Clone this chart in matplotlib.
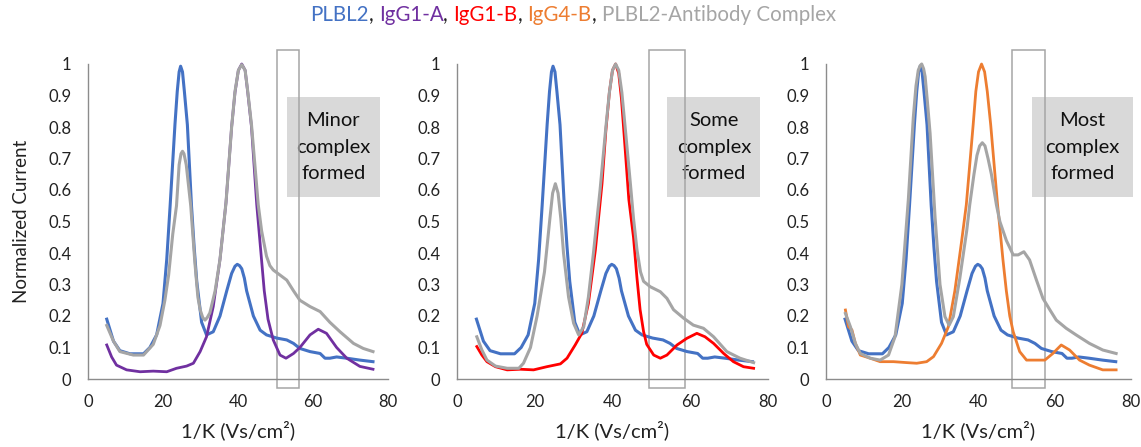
import matplotlib
matplotlib.use("Agg")
import matplotlib.pyplot as plt
from matplotlib.patches import Rectangle

plt.rcParams['font.family'] = ['Lato', 'DejaVu Sans']

BLUE = "#4472C4"
GRAY = "#A5A5A5"
PURPLE = "#7030A0"
RED = "#FF0000"
ORANGE = "#ED7D31"

# PLBL2 reference trace (same in every panel)
plbl2_x = [5, 6.8, 8.5, 11.2, 14.8, 16.5, 18.3, 20, 21, 21.9, 23.2, 23.8, 24.3, 24.7, 25.2,
           25.7, 26.5, 27.6, 28.3, 29, 30.3, 31.6, 33.4, 35.2, 37, 38.3, 39.2, 39.8, 40.4,
           41, 41.7, 42.3, 44.1, 45.9, 47.6, 50.3, 53, 54.8, 56.5, 59.2, 61.9, 63.2, 64.5,
           66.3, 69, 72.5, 76]
plbl2_y = [0.19, 0.12, 0.09, 0.08, 0.08, 0.10, 0.14, 0.24, 0.38, 0.55, 0.81, 0.913, 0.975,
           0.993, 0.975, 0.913, 0.807, 0.55, 0.42, 0.31, 0.18, 0.14, 0.15, 0.20, 0.28, 0.335,
           0.358, 0.364, 0.36, 0.35, 0.32, 0.28, 0.20, 0.155, 0.14, 0.13, 0.124, 0.113, 0.097,
           0.087, 0.081, 0.066, 0.066, 0.07, 0.066, 0.06, 0.055]

# panel 1: IgG1-A
igg1a_x = [5, 6.3, 7.6, 10.3, 13.9, 17.4, 21, 23.6, 26.3, 28.1, 29.9, 31.6, 33.4, 35.2,
           36.8, 38.3, 39.2, 40.1, 41, 41.9, 42.6, 43.6, 45, 45.9, 47, 48, 49.4, 51.2, 52.8,
           54.8, 56.5, 59.2, 61.4, 63.6, 66.3, 69, 72.5, 76]
igg1a_y = [0.108, 0.07, 0.044, 0.029, 0.023, 0.025, 0.023, 0.034, 0.041, 0.05, 0.087, 0.134,
           0.23, 0.38, 0.56, 0.80, 0.91, 0.98, 1.0, 0.98, 0.91, 0.80, 0.553, 0.43, 0.28, 0.19,
           0.124, 0.076, 0.066, 0.081, 0.10, 0.14, 0.158, 0.145, 0.10, 0.066, 0.04, 0.031]
cplx1_x = [5, 6.8, 8.5, 12.1, 14.8, 17.4, 19.2, 20.5, 21.5, 22.6, 23.6, 24.3, 24.8, 25.2,
           25.6, 26.2, 27.4, 28.5, 29.3, 29.9, 30.6, 31.2, 31.8, 32.5, 33.9, 35.2, 36.8, 38.3,
           39.2, 40.1, 41, 41.9, 42.6, 43.6, 45.4, 46.3, 47.6, 48.5, 49.4, 51.2, 53, 54.8,
           56.5, 59.2, 61.9, 64.5, 67.2, 70.8, 73.4, 76]
cplx1_y = [0.17, 0.12, 0.087, 0.076, 0.076, 0.11, 0.17, 0.25, 0.33, 0.46, 0.55, 0.68, 0.715,
           0.723, 0.715, 0.68, 0.55, 0.37, 0.26, 0.22, 0.195, 0.187, 0.195, 0.21, 0.28, 0.38,
           0.56, 0.80, 0.913, 0.98, 0.998, 0.98, 0.913, 0.807, 0.553, 0.47, 0.39, 0.36, 0.346,
           0.33, 0.314, 0.28, 0.25, 0.23, 0.214, 0.18, 0.15, 0.113, 0.097, 0.087]

# panel 2: IgG1-B
igg1b_x = [5.1, 6.4, 7.7, 9.9, 12.9, 16.3, 19.7, 23.1, 26.6, 28.3, 30.4, 32.1, 33.8, 35.6,
           37.3, 38.3, 39.2, 40, 40.8, 41.6, 42.3, 43.2, 44.2, 45.4, 46.3, 47.1, 48, 48.8,
           50.6, 52.3, 54, 56.6, 59.1, 61.7, 63.8, 66, 68.6, 71.1, 73.7, 76.3]
igg1b_y = [0.103, 0.076, 0.055, 0.039, 0.029, 0.031, 0.029, 0.039, 0.048, 0.066, 0.108,
           0.145, 0.24, 0.41, 0.62, 0.79, 0.91, 0.98, 1.0, 0.97, 0.89, 0.74, 0.57, 0.45, 0.32,
           0.22, 0.15, 0.11, 0.076, 0.066, 0.076, 0.108, 0.129, 0.145, 0.134, 0.113, 0.081,
           0.055, 0.039, 0.034]
cplx2_x = [5.1, 6.4, 7.7, 9.9, 12.9, 15.9, 17.1, 18.9, 20.6, 22.5, 23.9, 24.6, 25.3, 26,
           26.7, 27.4, 28.7, 30, 31.3, 32.6, 33.8, 35.1, 36.8, 38.3, 39.2, 40, 40.8, 41.6,
           42.4, 43.4, 44.6, 45.4, 46.3, 47.2, 48, 49.7, 52.3, 54, 55.7, 58.3, 60.8, 63.4,
           66, 69.4, 72.8, 76.3]
cplx2_y = [0.134, 0.092, 0.06, 0.041, 0.034, 0.034, 0.05, 0.10, 0.20, 0.34, 0.51, 0.59,
           0.62, 0.59, 0.51, 0.40, 0.26, 0.177, 0.14, 0.166, 0.26, 0.40, 0.60, 0.80, 0.91,
           0.98, 1.0, 0.98, 0.91, 0.78, 0.62, 0.51, 0.41, 0.34, 0.31, 0.293, 0.277, 0.256,
           0.22, 0.193, 0.171, 0.161, 0.134, 0.087, 0.066, 0.052]

# panel 3: IgG4-B
igg4b_x = [5.1, 5.9, 6.8, 7.7, 9, 11.6, 14.2, 17.7, 21.2, 23.8, 26.4, 28.2, 30.3, 32.1,
           33.8, 35.6, 36.8, 37.7, 38.6, 39.3, 40, 40.8, 41.6, 42.3, 43.2, 44.1, 45, 45.6,
           46.4, 47.3, 48.2, 49.1, 50.8, 52.6, 55.2, 57.4, 59.5, 61.7, 63.9, 66.5, 69.1,
           72.6, 76.1]
igg4b_y = [0.219, 0.166, 0.156, 0.113, 0.076, 0.066, 0.055, 0.055, 0.052, 0.05, 0.055,
           0.071, 0.113, 0.166, 0.28, 0.44, 0.553, 0.68, 0.807, 0.913, 0.975, 1.0, 0.975,
           0.913, 0.807, 0.68, 0.553, 0.48, 0.38, 0.28, 0.20, 0.15, 0.087, 0.06, 0.06, 0.06,
           0.081, 0.108, 0.092, 0.06, 0.044, 0.029, 0.029]
cplx3_x = [5.1, 6.4, 7.7, 9, 11.6, 14.2, 16.4, 18.1, 19.9, 21.6, 22.9, 23.6, 24.2, 24.7,
           25.1, 25.6, 26, 26.6, 27.3, 28.6, 29.9, 31.2, 32.3, 33.4, 35.1, 36.9, 37.7, 38.8,
           39.6, 40.3, 41, 41.7, 42.5, 43.4, 44.7, 45.6, 47.3, 49.1, 50.4, 51.9, 53.4, 55.2,
           56.9, 58.7, 60.4, 63, 65.6, 69.1, 72.6, 76.1]
cplx3_y = [0.208, 0.166, 0.113, 0.081, 0.066, 0.06, 0.076, 0.134, 0.30, 0.57, 0.83, 0.93,
           0.98, 0.995, 1.0, 0.985, 0.96, 0.88, 0.78, 0.515, 0.30, 0.198, 0.171, 0.198, 0.32,
           0.47, 0.553, 0.649, 0.71, 0.74, 0.75, 0.74, 0.70, 0.649, 0.553, 0.50, 0.44, 0.394,
           0.394, 0.404, 0.378, 0.314, 0.256, 0.22, 0.187, 0.161, 0.14, 0.113, 0.092, 0.081]

panel_labels = ["Minor\ncomplex\nformed", "Some\ncomplex\nformed", "Most\ncomplex\nformed"]
window = [(50.4, 56.3), (49.3, 58.6), (48.9, 57.4)]
antibodies = [(igg1a_x, igg1a_y, PURPLE), (igg1b_x, igg1b_y, RED), (igg4b_x, igg4b_y, ORANGE)]
complexes = [(cplx1_x, cplx1_y), (cplx2_x, cplx2_y), (cplx3_x, cplx3_y)]

title_parts = ["PLBL2", ", ", "IgG1-A", ", ", "IgG1-B", ", ", "IgG4-B", ", ", "PLBL2-Antibody Complex"]
title_colors = [BLUE, "#222222", PURPLE, "#222222", RED, "#222222", ORANGE, "#222222", GRAY]

W, H = 1141, 447
fig = plt.figure(figsize=(W / 100, H / 100), dpi=100)

# axes placement in pixels: (x at 0, x at 80)
spans = [(88, 388), (457, 768), (826, 1131)]
y0_px, y1_px = 379, 64
boxes = [(53, 77.9), (54.1, 78.0), (54.0, 80.6)]

for i, (l, r) in enumerate(spans):
    ax = fig.add_axes([l / W, (H - y0_px) / H, (r - l) / W, (y0_px - y1_px) / H])
    ax.set_xlim(0, 80)
    ax.set_ylim(0, 1)
    for s in ["top", "right"]:
        ax.spines[s].set_visible(False)
    for s in ["left", "bottom"]:
        ax.spines[s].set_color("#8C8C8C")
        ax.spines[s].set_linewidth(1)
    ax.set_xticks([0, 20, 40, 60, 80])
    ax.set_yticks([i / 10 for i in range(11)])
    ax.set_yticklabels(["0"] + [f"{i / 10:.1f}" for i in range(1, 10)] + ["1"])
    ax.tick_params(axis="y", length=0, pad=12, labelsize=12, labelcolor="#222222")
    ax.tick_params(axis="x", length=0, pad=11, labelsize=12, labelcolor="#222222")
    ax.set_xlabel("1/K (Vs/cm²)", fontsize=14.5, color="#222222", labelpad=7)
    if i == 0:
        ax.set_ylabel("Normalized Current", fontsize=13.5, color="#222222", labelpad=13)

    ab_x, ab_y, ab_c = antibodies[i]
    cx, cy = complexes[i]
    # draw order: PLBL2, antibody, then complex on top
    ax.plot(plbl2_x, plbl2_y, color=BLUE, lw=2.2, clip_on=False, zorder=3,
            solid_joinstyle="round")
    ax.plot(ab_x, ab_y, color=ab_c, lw=2.0, clip_on=False, zorder=3.2,
            solid_joinstyle="round")
    ax.plot(cx, cy, color=GRAY, lw=2.2, clip_on=False, zorder=3.5,
            solid_joinstyle="round")

    bx0, bx1 = boxes[i]
    ax.add_patch(Rectangle((bx0, 0.578), bx1 - bx0, 0.895 - 0.578, facecolor="#D9D9D9",
                           edgecolor="none", clip_on=False, zorder=1))
    ax.text((bx0 + bx1) / 2, (0.578 + 0.895) / 2, panel_labels[i], ha="center", va="center",
            fontsize=14.5, linespacing=1.7, color="#111111", zorder=2)

    w0, w1 = window[i]
    ax.add_patch(Rectangle((w0, -0.03), w1 - w0, 1.075, facecolor="none", edgecolor=GRAY,
                           lw=1.1, clip_on=False, zorder=2))

# multi-coloured title
fig.canvas.draw()
r = fig.canvas.get_renderer()
texts = [fig.text(0, 1 - 15 / H, p, color=c, fontsize=14.8, va="center")
         for p, c in zip(title_parts, title_colors)]
widths = [t.get_window_extent(r).width for t in texts]
x = (573 - sum(widths) / 2)
for t, w in zip(texts, widths):
    t.set_x(x / W)
    x += w

fig.savefig("out.png", dpi=100)
